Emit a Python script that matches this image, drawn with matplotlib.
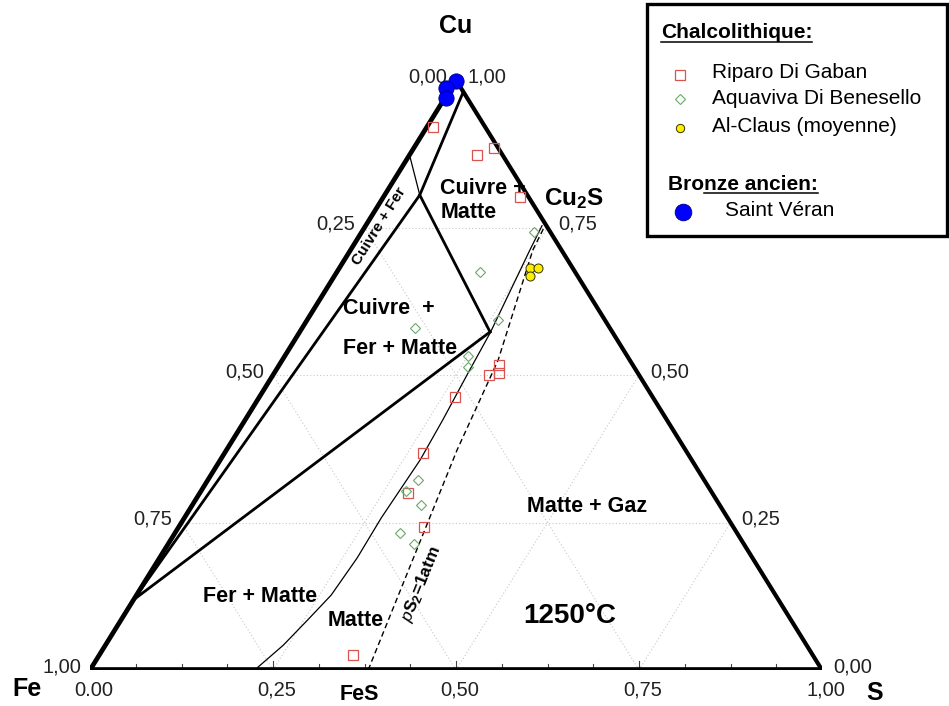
import matplotlib
matplotlib.use("Agg")
import matplotlib.pyplot as plt
from matplotlib.patches import Rectangle
import numpy as np

plt.rcParams['font.family'] = ['Liberation Sans', 'DejaVu Sans']
plt.rcParams['mathtext.fontset'] = 'custom'
plt.rcParams['mathtext.rm'] = 'Liberation Sans'
plt.rcParams['mathtext.bf'] = 'Liberation Sans:bold'
plt.rcParams['mathtext.it'] = 'Liberation Sans:italic'

# ---------------- data (ternary: Cu fraction, S fraction; Fe = 1 - Cu - S) -------------
riparo_cu = [0.920, 0.873, 0.885, 0.802, 0.517, 0.503, 0.500, 0.463, 0.368, 0.300, 0.242, 0.025]
riparo_s = [0.009, 0.092, 0.110, 0.187, 0.300, 0.307, 0.295, 0.267, 0.271, 0.284, 0.335, 0.347]

aquaviva_cu = [0.742, 0.674, 0.593, 0.580, 0.532, 0.514, 0.322, 0.303, 0.280, 0.232, 0.214]
aquaviva_s = [0.236, 0.196, 0.261, 0.154, 0.250, 0.259, 0.287, 0.280, 0.312, 0.308, 0.335]

alclaus_cu = [0.681, 0.681, 0.667]
alclaus_s = [0.261, 0.272, 0.268]

stveran_cu = [0.998, 0.986, 0.970]
stveran_s = [0.001, -0.006, 0.002]

# phase boundaries at 1250 C
line_cufer_cu = [0.119, 0.805, 0.980]
line_cufer_s = [0.000, 0.048, 0.020]
line_cumatte_cu = [0.805, 0.573]
line_cumatte_s = [0.048, 0.260]
line_fermatte_cu = [0.573, 0.119]
line_fermatte_s = [0.260, 0.000]
line_thin_cu = [0.873, 0.805]
line_thin_s = [0.000, 0.048]
matte_cu = [0.000, 0.042, 0.085, 0.127, 0.190, 0.258, 0.356, 0.424, 0.500, 0.571, 0.712, 0.753]
matte_s = [0.225, 0.243, 0.255, 0.266, 0.270, 0.269, 0.273, 0.270, 0.265, 0.261, 0.245, 0.241]
ps2_cu = [0.000, 0.373, 0.525, 0.712, 0.753]
ps2_s = [0.380, 0.315, 0.295, 0.249, 0.245]

grid_values = [0.25, 0.50, 0.75]
tick_values = [0.00, 0.25, 0.50, 0.75, 1.00]
bottom_labels = ["0.00", "0,25", "0,50", "0,75", "1,00"]


def tern(cu, s):
    cu = np.asarray(cu, float)
    s = np.asarray(s, float)
    return s + cu / 2.0, cu


W, H = 949, 706
fig = plt.figure(figsize=(W / 100, H / 100), dpi=100)
fig.patch.set_facecolor('white')
ax = fig.add_axes([90 / W, (H - 670) / H, 732 / W, 590 / H])
ax.set_xlim(0, 1)
ax.set_ylim(0, 1)
ax.axis('off')

# grid
gcol = '#c8c8c8'
for v in grid_values:
    for (c0, s0, c1, s1) in [(v, 0, v, 1 - v), (0, v, 1 - v, v), (0, 1 - v, 1 - v, 0)]:
        x, y = tern([c0, c1], [s0, s1])
        ax.plot(x, y, ls=(0, (1, 2)), color=gcol, lw=0.8, zorder=1)

# ticks on the bottom edge
for k in range(1, 16):
    s = k / 16
    L = 0.016 if k % 4 == 0 else 0.010
    ax.plot([s, s], [0, L], color='#444444', lw=0.8, zorder=2)

# triangle edges
x, y = tern([0, 0], [0, 1])
ax.plot(x, y, color='black', lw=4.8, solid_capstyle='butt', zorder=3)
x, y = tern([0, 1], [0, 0])
ax.plot(x, y, color='black', lw=3.4, zorder=3)
x, y = tern([1, 0], [0, 1])
ax.plot(x, y, color='black', lw=3.0, zorder=3)

# phase boundaries
for cu, s in [(line_cufer_cu, line_cufer_s), (line_cumatte_cu, line_cumatte_s),
              (line_fermatte_cu, line_fermatte_s)]:
    x, y = tern(cu, s)
    ax.plot(x, y, color='black', lw=2.0, zorder=3, solid_joinstyle='miter')
x, y = tern(line_thin_cu, line_thin_s)
ax.plot(x, y, color='black', lw=0.9, zorder=3)
x, y = tern(matte_cu, matte_s)
ax.plot(x, y, color='black', lw=0.9, zorder=3, solid_joinstyle='round')
x, y = tern(ps2_cu, ps2_s)
ax.plot(x, y, color='black', lw=1.0, ls=(0, (4, 2.5)), zorder=3)

# data points
red = '#d9534f'
green = '#6aa86a'
x, y = tern(riparo_cu, riparo_s)
ax.plot(x, y, 's', ms=7.5, mfc='none', mec=red, mew=0.9, zorder=6, clip_on=False)
x, y = tern(aquaviva_cu, aquaviva_s)
ax.plot(x, y, 'D', ms=5.2, mfc='none', mec=green, mew=0.8, zorder=6, clip_on=False)
x, y = tern(alclaus_cu, alclaus_s)
ax.plot(x, y, 'o', ms=6.5, mfc='#ffee00', mec='#333300', mew=0.7, zorder=6, clip_on=False)
x, y = tern(stveran_cu, stveran_s)
ax.plot(x, y, 'o', ms=11, mfc='#0000ff', mec='#000080', mew=0.6, zorder=7, clip_on=False)

# tick labels
tfs = 14.5
tcol = '#222222'
for v in tick_values:
    lab = f"{v:.2f}".replace('.', ',')
    # left edge: Fe fraction (1 - Cu)
    px, py = tern(1 - v, 0)
    ax.annotate(lab, (px, py), xytext=(-6.5, 2.5), textcoords='offset points',
                ha='right', va='center', fontsize=tfs, color=tcol, zorder=4, annotation_clip=False)
    # right edge: Cu fraction
    px, py = tern(v, 1 - v)
    ax.annotate(lab, (px, py), xytext=(8, 2.5), textcoords='offset points',
                ha='left', va='center', fontsize=tfs, color=tcol, zorder=4, annotation_clip=False)
for v, lab in zip(tick_values, bottom_labels):
    px, py = tern(0, v)
    ax.annotate(lab, (px, py), xytext=(3, -14.5), textcoords='offset points',
                ha='center', va='center', fontsize=tfs, color=tcol, zorder=4, annotation_clip=False)

# overlay in pixel coordinates for labels and legend
ov = fig.add_axes([0, 0, 1, 1])
ov.set_xlim(0, W)
ov.set_ylim(H, 0)
ov.axis('off')

bold = dict(fontweight='bold', color='black')
ov.text(456, 26, "Cu", fontsize=18, ha='center', va='center', **bold)
ov.text(27, 689, "Fe", fontsize=18, ha='center', va='center', **bold)
ov.text(875, 693, "S", fontsize=18, ha='center', va='center', **bold)
ov.text(359, 695, "FeS", fontsize=15.5, ha='center', va='center', **bold)
ov.text(574, 199, r"Cu$_\mathbf{2}$S", fontsize=17.5, ha='center', va='center', **bold)

rfs = 15.5
ov.text(440, 189, "Cuivre +", fontsize=rfs, ha='left', va='center', **bold)
ov.text(441, 212, "Matte", fontsize=rfs, ha='left', va='center', **bold)
ov.text(343, 309, "Cuivre  +", fontsize=rfs, ha='left', va='center', **bold)
ov.text(343, 348, "Fer + Matte", fontsize=rfs, ha='left', va='center', **bold)
ov.text(587, 507, "Matte + Gaz", fontsize=rfs, ha='center', va='center', **bold)
ov.text(260, 597, "Fer + Matte", fontsize=rfs, ha='center', va='center', **bold)
ov.text(356, 620, "Matte", fontsize=rfs, ha='center', va='center', **bold)
ov.text(570, 616, "1250°C", fontsize=20, ha='center', va='center', **bold)
ov.text(379, 226, "Cuivre + Fer", fontsize=11, rotation=58, ha='center', va='center',
        rotation_mode='anchor', **bold)
ov.text(421, 584, r"$\mathit{p}$S$_\mathbf{2}$=1atm", fontsize=12.5, rotation=68,
        ha='center', va='center', rotation_mode='anchor', **bold)

# legend box
ov.add_patch(Rectangle((647, 4), 300, 232, fill=True, facecolor='white', edgecolor='black',
                       lw=2.4, zorder=5))
lfs = 15
t1 = ov.text(661, 33, "Chalcolithique:", fontsize=15, ha='left', va='center', zorder=6, **bold)
ov.plot([680], [75], 's', ms=6.5, mfc='none', mec=red, mew=0.9, zorder=6)
ov.text(712, 73, "Riparo Di Gaban", fontsize=lfs, ha='left', va='center', zorder=6)
ov.plot([680], [99], 'D', ms=4.8, mfc='none', mec=green, mew=0.8, zorder=6)
ov.text(712, 99, "Aquaviva Di Benesello", fontsize=lfs, ha='left', va='center', zorder=6)
ov.plot([680], [128], 'o', ms=6, mfc='#ffee00', mec='#333300', mew=0.7, zorder=6)
ov.text(712, 126, "Al-Claus (moyenne)", fontsize=lfs, ha='left', va='center', zorder=6)
t2 = ov.text(668, 184, "Bronze ancien:", fontsize=15, ha='left', va='center', zorder=6, **bold)
ov.plot([683], [212], 'o', ms=12, mfc='#0000ff', mec='#000080', mew=0.6, zorder=6)
ov.text(725, 210, "Saint Véran", fontsize=lfs, ha='left', va='center', zorder=6)

# underlines measured from text extents
fig.canvas.draw()
r = fig.canvas.get_renderer()
inv = ov.transData.inverted()
bb = t1.get_window_extent(r)
(x0, y0), (x1, y1) = inv.transform([[bb.x0, bb.y0], [bb.x1, bb.y1]])
ov.plot([x0, x1], [y0 - 1, y0 - 1], color='black', lw=1.1, zorder=6)
tmp = ov.text(668, 184, "Bro", fontsize=15, fontweight='bold', ha='left', va='center', alpha=0)
bb2 = tmp.get_window_extent(r)
bb3 = t2.get_window_extent(r)
(xa, ya), (xb, yb) = inv.transform([[bb2.x1, bb3.y0], [bb3.x1, bb3.y1]])
ov.plot([xa, xb], [ya - 1, ya - 1], color='black', lw=1.1, zorder=6)
tmp.remove()

fig.savefig("out.png", dpi=100, facecolor='white')
